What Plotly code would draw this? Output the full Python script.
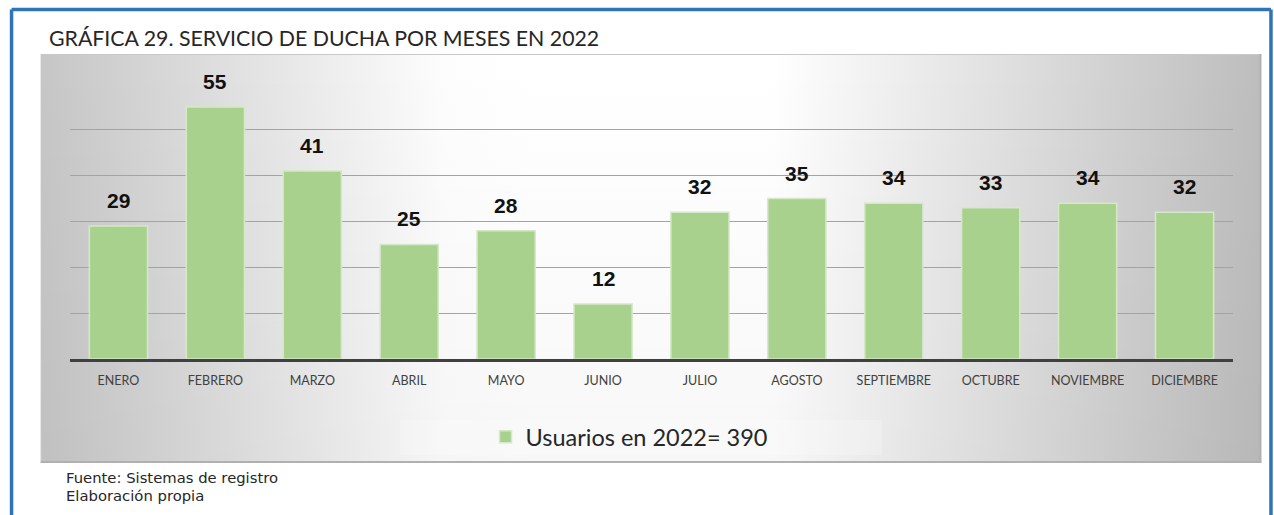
import base64
import plotly.graph_objects as go

months = ["ENERO", "FEBRERO", "MARZO", "ABRIL", "MAYO", "JUNIO", "JULIO",
          "AGOSTO", "SEPTIEMBRE", "OCTUBRE", "NOVIEMBRE", "DICIEMBRE"]
usuarios = [29, 55, 41, 25, 28, 12, 32, 35, 34, 33, 34, 32]
series_name = "Usuarios en 2022= 390"
title_text = "GRÁFICA 29. SERVICIO DE DUCHA POR MESES EN 2022"
notes = ["Fuente: Sistemas de registro", "Elaboración propia"]

W, H = 1274, 515
L, R, T, B = 69.5, 1233.5, 84, 359  # plot area in pixels
PW, PH = R - L, B - T


def px(xp):
    return (xp - L) / PW


def py(yp):
    return (B - yp) / PH


# background panel (gradient) as svg image
pan_x0, pan_x1, pan_y0, pan_y1 = 40, 1262, 54, 463
pw, ph = pan_x1 - pan_x0, pan_y1 - pan_y0
svg = f'''<svg xmlns="http://www.w3.org/2000/svg" width="{pw}" height="{ph}" viewBox="0 0 {pw} {ph}" preserveAspectRatio="none">
<defs>
<linearGradient id="g" x1="0" y1="0" x2="1" y2="0">
<stop offset="0" stop-color="#c6c6c6"/>
<stop offset="0.33" stop-color="#fdfdfd"/>
<stop offset="0.40" stop-color="#ffffff"/>
<stop offset="0.60" stop-color="#ffffff"/>
<stop offset="1" stop-color="#bdbdbd"/>
</linearGradient>
<linearGradient id="v" x1="0" y1="0" x2="0" y2="1">
<stop offset="0" stop-color="#000000" stop-opacity="0"/>
<stop offset="1" stop-color="#000000" stop-opacity="0.03"/>
</linearGradient>
</defs>
<rect x="0" y="0" width="{pw}" height="{ph}" fill="url(#g)"/>
<rect x="0" y="0" width="{pw}" height="{ph}" fill="url(#v)"/>
<rect x="{400 - pan_x0}" y="{420 - pan_y0}" width="482" height="35" fill="#ffffff" fill-opacity="0.22"/>
<rect x="0.5" y="0.5" width="{pw - 1}" height="{ph - 1}" fill="none" stroke="#c8c8c8" stroke-width="1"/>
<line x1="0" y1="{ph - 1}" x2="{pw}" y2="{ph - 1}" stroke="#b0b0b0" stroke-width="2"/>
<line x1="{pw - 1}" y1="0" x2="{pw - 1}" y2="{ph}" stroke="#b0b0b0" stroke-width="2"/>
</svg>'''
src = "data:image/svg+xml;base64," + base64.b64encode(svg.encode()).decode()

fig = go.Figure()
fig.add_trace(go.Bar(
    x=months, y=usuarios, name=series_name,
    marker=dict(color="#A9D18E", line=dict(color="#D5E8C8", width=1.5)),
    showlegend=True,
))

annotations = []
for m, v in zip(months, usuarios):
    annotations.append(dict(x=m, y=v, xref="x", yref="y", text="<b>" + str(v) + "</b>",
                            showarrow=False, yanchor="bottom", yshift=12,
                            font=dict(family="Liberation Sans, Arial", size=21, color="#111111")))
annotations.append(dict(x=px(46), y=py(38), xref="paper", yref="paper", text=title_text,
                        showarrow=False, xanchor="left", yanchor="middle",
                        font=dict(family="Lato", size=21.3, color="#262626")))
for i, n in enumerate(notes):
    annotations.append(dict(x=px(64), y=py(477 + 19 * i), xref="paper", yref="paper", text=n,
                            showarrow=False, xanchor="left", yanchor="middle", borderpad=0,
                            font=dict(family="DejaVu Sans", size=14.8, color="#262626")))

shapes = []
bx0, bx1, by0 = px(11), px(1271.5), py(9.5)
blue = "#2E75B6"
shapes.append(dict(type="line", xref="paper", yref="paper", x0=bx0, x1=bx1, y0=by0, y1=by0,
                   line=dict(color=blue, width=3.5)))
shapes.append(dict(type="line", xref="paper", yref="paper", x0=bx0, x1=bx0, y0=by0, y1=py(520),
                   line=dict(color=blue, width=3.5)))
shapes.append(dict(type="line", xref="paper", yref="paper", x0=bx1, x1=bx1, y0=by0, y1=py(520),
                   line=dict(color=blue, width=3.5)))

fig.update_layout(
    width=W, height=H,
    margin=dict(l=L, r=W - R, t=T, b=H - B),
    paper_bgcolor="white", plot_bgcolor="rgba(0,0,0,0)",
    bargap=0.4,
    xaxis=dict(showline=True, linecolor="#404040", linewidth=3, ticks="",
               tickfont=dict(family="Lato", size=12.5, color="#404040"),
               ticklabelstandoff=8, showgrid=False),
    yaxis=dict(range=[0, 60], dtick=10, showticklabels=False, showgrid=True,
               gridcolor="#a3a3a3", gridwidth=1, zeroline=False),
    legend=dict(orientation="h", x=px(629), xanchor="center", y=py(437), yanchor="middle",
                bgcolor="rgba(0,0,0,0)", font=dict(family="Lato", size=23.5, color="#262626"),
                itemwidth=30),
    images=[dict(source=src, xref="paper", yref="paper", x=px(pan_x0), y=py(pan_y0),
                 sizex=pw / PW, sizey=ph / PH, xanchor="left", yanchor="top",
                 sizing="stretch", layer="below")],
    annotations=annotations,
    shapes=shapes,
)

fig.write_html("out.html", config={"displayModeBar": False},
               post_script="document.body.style.margin='0';")
